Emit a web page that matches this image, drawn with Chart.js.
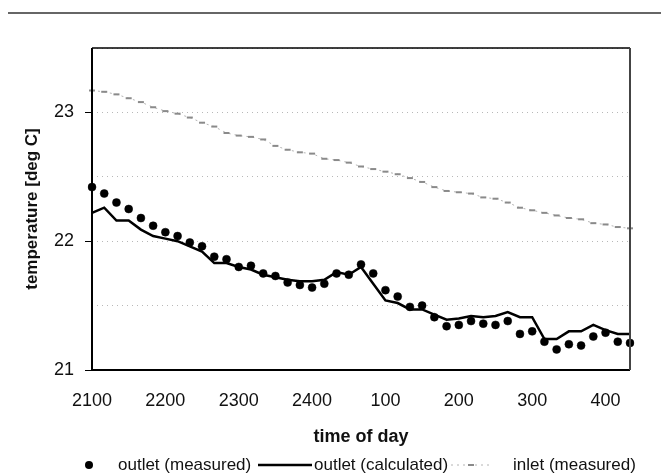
<!DOCTYPE html>
<html>
<head>
<meta charset="utf-8">
<script src="https://cdn.jsdelivr.net/npm/chart.js@4.4.1/dist/chart.umd.min.js"></script>
<style>
html, body { margin: 0; padding: 0; background: #fff; }
</style>
</head>
<body>
<canvas id="canvas" width="661" height="475"></canvas>
<script>
// time of day, 10 minute steps
var times = ['2100', '2110', '2120', '2130', '2140', '2150',
    '2200', '2210', '2220', '2230', '2240', '2250',
    '2300', '2310', '2320', '2330', '2340', '2350',
    '2400', '2410', '2420', '2430', '2440', '2450',
    '100', '110', '120', '130', '140', '150',
    '200', '210', '220', '230', '240', '250',
    '300', '310', '320', '330', '340', '350',
    '400', '410', '420'];

var outletMeasured = [22.42, 22.37, 22.30, 22.25, 22.18, 22.12, 22.07, 22.04, 21.99, 21.96,
    21.88, 21.86, 21.80, 21.81, 21.75, 21.73, 21.68, 21.66, 21.64, 21.67,
    21.75, 21.74, 21.82, 21.75, 21.62, 21.57, 21.49, 21.50, 21.41, 21.34,
    21.35, 21.38, 21.36, 21.35, 21.38, 21.28, 21.30, 21.22, 21.16, 21.20,
    21.19, 21.26, 21.29, 21.22, 21.21];

var outletCalculated = [22.22, 22.26, 22.16, 22.16, 22.09, 22.04, 22.02, 22.00, 21.96, 21.92,
    21.83, 21.83, 21.80, 21.78, 21.74, 21.72, 21.70, 21.69, 21.69, 21.70,
    21.76, 21.74, 21.80, 21.67, 21.54, 21.52, 21.47, 21.47, 21.43, 21.39,
    21.40, 21.42, 21.41, 21.42, 21.45, 21.41, 21.41, 21.24, 21.24, 21.30,
    21.30, 21.35, 21.31, 21.28, 21.28];

var inletMeasured = [23.17, 23.16, 23.14, 23.11, 23.08, 23.04, 23.01, 22.99, 22.96, 22.92,
    22.89, 22.84, 22.82, 22.81, 22.79, 22.74, 22.71, 22.69, 22.68, 22.64,
    22.63, 22.61, 22.58, 22.56, 22.54, 22.52, 22.49, 22.46, 22.42, 22.39,
    22.38, 22.37, 22.34, 22.33, 22.30, 22.26, 22.24, 22.22, 22.20, 22.18,
    22.17, 22.14, 22.13, 22.11, 22.10];

var seriesNames = ['outlet (measured)', 'outlet (calculated)', 'inlet (measured)'];

var yMin = 21, yMax = 23.5, yStep = 0.5;

var FONT = '"Liberation Sans", Arial, sans-serif';

// plot frame, top rule of the figure and the legend
var framePlugin = {
    id: 'frame',
    afterDraw: function (chart) {
        var ctx = chart.ctx, a = chart.chartArea;
        ctx.save();
        ctx.strokeStyle = '#000';
        ctx.lineWidth = 1.5;
        ctx.beginPath();
        ctx.moveTo(a.left, a.top);
        ctx.lineTo(a.right, a.top);
        ctx.stroke();
        ctx.lineWidth = 2;
        ctx.beginPath();
        ctx.moveTo(a.left, a.top);
        ctx.lineTo(a.left, a.bottom);
        ctx.lineTo(a.right, a.bottom);
        ctx.stroke();
        ctx.strokeStyle = '#444';
        ctx.beginPath();
        ctx.moveTo(a.right, a.top);
        ctx.lineTo(a.right, a.bottom);
        ctx.stroke();

        ctx.strokeStyle = '#333';
        ctx.lineWidth = 1.5;
        ctx.beginPath();
        ctx.moveTo(8, 13);
        ctx.lineTo(661, 13);
        ctx.stroke();

        // legend
        var ds = chart.data.datasets;
        var y = 465;
        ctx.font = '17px ' + FONT;
        ctx.fillStyle = '#111';
        ctx.textBaseline = 'middle';

        ctx.beginPath();
        ctx.arc(89, y, 4, 0, Math.PI * 2);
        ctx.fillStyle = ds[0].pointBackgroundColor;
        ctx.fill();
        ctx.fillStyle = '#111';
        ctx.fillText(ds[0].label, 118, y);

        ctx.strokeStyle = ds[1].borderColor;
        ctx.lineWidth = ds[1].borderWidth;
        ctx.beginPath();
        ctx.moveTo(258, y);
        ctx.lineTo(312, y);
        ctx.stroke();
        ctx.fillText(ds[1].label, 314, y);

        ctx.strokeStyle = ds[2].borderColor;
        ctx.lineWidth = 1;
        ctx.setLineDash(ds[2].borderDash);
        ctx.beginPath();
        ctx.moveTo(451, y);
        ctx.lineTo(491, y);
        ctx.stroke();
        ctx.setLineDash([]);
        ctx.strokeStyle = ds[2].pointBorderColor;
        ctx.lineWidth = 2;
        ctx.beginPath();
        ctx.moveTo(468, y);
        ctx.lineTo(474, y);
        ctx.stroke();
        ctx.fillText(ds[2].label, 513, y);
        ctx.restore();
    }
};

var config = {type: 'line', plugins: [framePlugin]};

config.data = {
    labels: times,
    datasets: [
        {
            label: seriesNames[0],
            data: outletMeasured,
            showLine: false,
            pointStyle: 'circle',
            pointRadius: 4,
            pointBackgroundColor: '#000',
            pointBorderColor: '#000',
            pointBorderWidth: 0.5
        },
        {
            label: seriesNames[1],
            data: outletCalculated,
            borderColor: '#000',
            borderWidth: 2.5,
            pointRadius: 0,
            tension: 0
        },
        {
            label: seriesNames[2],
            data: inletMeasured,
            borderColor: '#b4b4b4',
            borderWidth: 1,
            borderDash: [2, 4],
            pointStyle: 'line',
            pointRadius: 3,
            pointBorderWidth: 2,
            pointBorderColor: '#8a8a8a',
            tension: 0
        }
    ]
};

config.options = {
    responsive: false,
    devicePixelRatio: 1,
    animation: false,
    layout: {padding: {left: 0, right: 31, top: 48, bottom: 26}},
    plugins: {
        legend: {display: false},
        tooltip: {enabled: false}
    },
    scales: {
        x: {
            type: 'category',
            offset: false,
            grid: {display: false, drawTicks: false},
            border: {display: false},
            ticks: {
                autoSkip: false,
                maxRotation: 0,
                padding: 20,
                color: '#111',
                font: {family: FONT, size: 18},
                callback: function (value, index) {
                    return index % 6 === 0 ? times[index] : '';
                }
            },
            title: {
                display: true,
                text: 'time of day',
                color: '#111',
                font: {family: FONT, size: 18, weight: 'bold'},
                padding: {top: 0, bottom: 1}
            },
            afterFit: function (scale) {
                scale.height = 79;
            }
        },
        y: {
            min: yMin,
            max: yMax,
            grid: {
                color: '#b8b8b8',
                lineWidth: 1,
                tickLength: 7,
                tickColor: function (ctx) {
                    return ctx.tick && ctx.tick.value % 1 === 0 ? '#000' : 'rgba(0,0,0,0)';
                }
            },
            border: {display: false, dash: [1, 4]},
            ticks: {
                stepSize: yStep,
                padding: 11,
                color: '#111',
                font: {family: FONT, size: 18},
                callback: function (value) {
                    return value % 1 === 0 ? value : '';
                }
            },
            title: {
                display: true,
                text: 'temperature [deg C]',
                color: '#111',
                font: {family: FONT, size: 17, weight: 'bold'},
                padding: {top: 22, bottom: 0}
            },
            afterFit: function (scale) {
                scale.width = 92;
            }
        }
    }
};

var chart = new Chart(document.getElementById('canvas'), config);
</script>
</body>
</html>
